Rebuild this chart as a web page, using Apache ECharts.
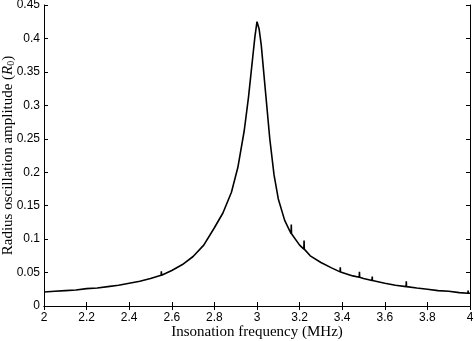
<!DOCTYPE html>
<html>
<head>
<meta charset="utf-8">
<script src="https://cdn.jsdelivr.net/npm/echarts@6/dist/echarts.min.js"></script>
<style>
  html, body { margin: 0; padding: 0; background: #fff; }
  #chart { width: 474px; height: 341px; }
</style>
</head>
<body>
<div id="chart"></div>
<script>
// frequency (MHz) and radius amplitude (R0)
const freq = [
  2.00, 2.05, 2.10, 2.15, 2.20, 2.25, 2.30, 2.35, 2.40, 2.45,
  2.50, 2.55, 2.551, 2.552, 2.60, 2.65, 2.70, 2.75, 2.80, 2.84,
  2.88, 2.91, 2.94, 2.96, 2.98, 2.99, 3.00, 3.01, 3.02, 3.04,
  3.06, 3.08, 3.10, 3.13, 3.16, 3.161, 3.162, 3.20, 3.22, 3.221,
  3.222, 3.25, 3.30, 3.35, 3.39, 3.391, 3.392, 3.40, 3.45, 3.48,
  3.481, 3.482, 3.50, 3.54, 3.541, 3.542, 3.55, 3.60, 3.65, 3.70,
  3.701, 3.702, 3.75, 3.80, 3.85, 3.90, 3.95, 3.99, 3.991, 3.992, 4.00
];
const amplitude = [
  0.021, 0.022, 0.023, 0.024, 0.026, 0.027, 0.029, 0.031, 0.034, 0.037,
  0.041, 0.046, 0.052, 0.046, 0.053, 0.062, 0.074, 0.091, 0.117, 0.139,
  0.170, 0.207, 0.262, 0.312, 0.372, 0.402, 0.425, 0.414, 0.390, 0.320,
  0.250, 0.196, 0.160, 0.128, 0.108, 0.122, 0.108, 0.091, 0.085, 0.098,
  0.085, 0.075, 0.065, 0.057, 0.051, 0.058, 0.051, 0.050, 0.045, 0.043,
  0.051, 0.043, 0.041, 0.038, 0.044, 0.038, 0.037, 0.034, 0.031, 0.029,
  0.037, 0.029, 0.027, 0.025, 0.023, 0.022, 0.020, 0.019, 0.023, 0.019, 0.019
];
const xTicks = [2, 4, 0.2];     // min, max, step
const yTicks = [0, 0.45, 0.05];

const myChart = echarts.init(document.getElementById('chart'));

const tickLabel = { color: '#000', fontFamily: 'Liberation Sans', fontSize: 12 };
const nameFont = { color: '#000', fontFamily: 'Liberation Serif', fontSize: 15 };

let option = {
  animation: false,
  grid: { left: 44, right: 4, top: 5, bottom: 35, containLabel: false, outerBoundsMode: 'none' },
  xAxis: [
    {
      type: 'value',
      min: xTicks[0], max: xTicks[1], interval: xTicks[2],
      name: 'Insonation frequency (MHz)',
      nameLocation: 'middle',
      nameMoveOverlap: false,
      nameGap: 19,
      nameTextStyle: nameFont,
      axisLine: { lineStyle: { color: '#000', width: 1 } },
      axisTick: { inside: true, length: 4, lineStyle: { color: '#000' } },
      axisLabel: Object.assign({ margin: 6 }, tickLabel),
      splitLine: { show: false }
    },
    {
      type: 'value', position: 'top',
      min: xTicks[0], max: xTicks[1], interval: xTicks[2],
      axisLine: { lineStyle: { color: '#000', width: 1 } },
      axisTick: { inside: true, length: 4, lineStyle: { color: '#000' } },
      axisLabel: { show: false },
      splitLine: { show: false }
    }
  ],
  yAxis: [
    {
      type: 'value',
      min: yTicks[0], max: yTicks[1], interval: yTicks[2],
      name: 'Radius oscillation amplitude ({i|R}{s|0})',
      nameLocation: 'middle',
      nameMoveOverlap: false,
      nameGap: 28,
      nameRotate: 90,
      nameTextStyle: Object.assign({
        rich: {
          i: { fontFamily: 'Liberation Serif', fontStyle: 'italic', fontSize: 15, color: '#000' },
          s: { fontFamily: 'Liberation Serif', fontSize: 10, color: '#000', verticalAlign: 'bottom', padding: [6, 0, 0, 0] }
        }
      }, nameFont),
      axisLine: { lineStyle: { color: '#000', width: 1 } },
      axisTick: { inside: true, length: 4, lineStyle: { color: '#000' } },
      axisLabel: Object.assign({ margin: 4 }, tickLabel),
      splitLine: { show: false }
    },
    {
      type: 'value', position: 'right',
      min: yTicks[0], max: yTicks[1], interval: yTicks[2],
      axisLine: { lineStyle: { color: '#000', width: 1 } },
      axisTick: { inside: true, length: 4, lineStyle: { color: '#000' } },
      axisLabel: { show: false },
      splitLine: { show: false }
    }
  ],
  series: [
    {
      name: 'amplitude',
      type: 'line',
      showSymbol: false,
      lineStyle: { color: '#000', width: 1.6 },
      data: freq.map((f, i) => [f, amplitude[i]])
    }
  ]
};
myChart.setOption(option);
</script>
</body>
</html>
